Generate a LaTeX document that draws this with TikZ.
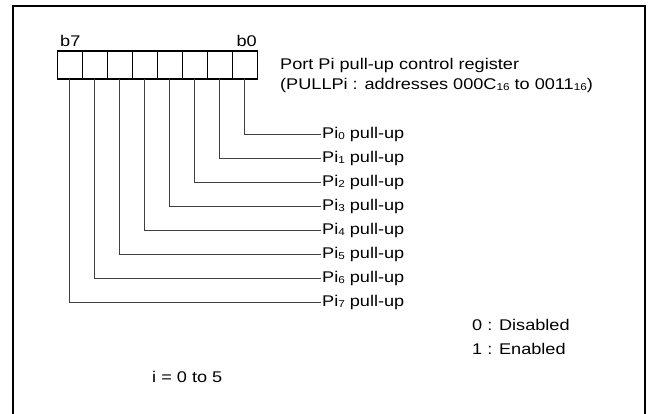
\documentclass[tikz,border=0pt]{standalone}
\usepackage{fontspec}
\setmainfont{Liberation Sans}[FakeStretch=1.17]
\usetikzlibrary{positioning}
\newcommand{\lowsub}[1]{\raisebox{-1.2pt}{\fontsize{10}{10}\selectfont #1}}

\begin{document}
\begin{tikzpicture}[x=1pt,y=-1pt,
        every node/.style={font=\fontsize{15.5}{17}\selectfont},
        bitcell/.style={draw,line width=1.1pt,minimum width=25pt,minimum height=28pt,inner sep=0pt,outer sep=0pt},
        pulltext/.style={anchor=west,inner sep=1pt},
        plain/.style={anchor=base west,inner sep=0pt},
        lead/.style={line width=0.8pt,black!75}]
        \useasboundingbox (0,0) rectangle (648,414);
        \draw[line width=2pt] (13,414) -- (13,6) -- (645,6) -- (645,414);
        % register cells, b7 on the left
        \node[bitcell] (c7) at (69.8,65) {};
        \node[bitcell,right=0pt of c7] (c6) {};
        \node[bitcell,right=0pt of c6] (c5) {};
        \node[bitcell,right=0pt of c5] (c4) {};
        \node[bitcell,right=0pt of c4] (c3) {};
        \node[bitcell,right=0pt of c3] (c2) {};
        \node[bitcell,right=0pt of c2] (c1) {};
        \node[bitcell,right=0pt of c1] (c0) {};
        \node[plain] (hb7) at (60,46.7) {b7};
        \node[anchor=base east,inner sep=0pt] (hb0) at (257,46.7) {b0};
        \node[plain] (reg) at (280,69.5) {Port Pi pull-up control register};
        \node[plain] (regaddr) at (280,89.5) {(PULLPi : addresses 000C\lowsub{16} to 0011\lowsub{16})};
        % bit names
        \node[pulltext] (p0) at (321,134) {Pi\lowsub{0} pull-up};
        \node[pulltext] (p1) at (321,158) {Pi\lowsub{1} pull-up};
        \node[pulltext] (p2) at (321,182) {Pi\lowsub{2} pull-up};
        \node[pulltext] (p3) at (321,206) {Pi\lowsub{3} pull-up};
        \node[pulltext] (p4) at (321,230) {Pi\lowsub{4} pull-up};
        \node[pulltext] (p5) at (321,254) {Pi\lowsub{5} pull-up};
        \node[pulltext] (p6) at (321,278) {Pi\lowsub{6} pull-up};
        \node[pulltext] (p7) at (321,302) {Pi\lowsub{7} pull-up};
        \draw[lead] (c0.south) |- (p0.west);
        \draw[lead] (c1.south) |- (p1.west);
        \draw[lead] (c2.south) |- (p2.west);
        \draw[lead] (c3.south) |- (p3.west);
        \draw[lead] (c4.south) |- (p4.west);
        \draw[lead] (c5.south) |- (p5.west);
        \draw[lead] (c6.south) |- (p6.west);
        \draw[lead] (c7.south) |- (p7.west);
        % legend
        \node[plain] (dis) at (472,330.5) {0 : Disabled};
        \node[plain] (en) at (472,354.5) {1 : Enabled};
        \node[plain] (irange) at (152,382.5) {i = 0 to 5};
    \end{tikzpicture}
\end{document}
